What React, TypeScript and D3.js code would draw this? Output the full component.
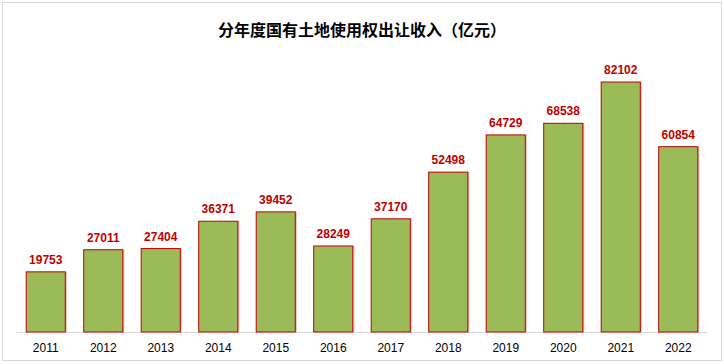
import React from 'react'
import * as d3 from "d3";

const years = ["2011", "2012", "2013", "2014", "2015", "2016", "2017", "2018", "2019", "2020", "2021", "2022"];
const income = [19753, 27011, 27404, 36371, 39452, 28249, 37170, 52498, 64729, 68538, 82102, 60854];
const title = "分年度国有土地使用权出让收入（亿元）";

export default function App() {
	const width = 724, height = 364;
	const marginLeft = 17, marginRight = 17, baseline = 332;

	const x = d3.scaleBand()
		.domain(years)
		.range([marginLeft, width - marginRight])
		.paddingInner(0.32)
		.paddingOuter(0.16);

	const y = d3.scaleLinear()
		.domain([0, 90000])
		.range([baseline, baseline - 90000 * 250 / 82102]);

	return (
		<svg width={width} height={height} style={{ position: "absolute", left: 0, top: 0, fontFamily: "Arial, 'Liberation Sans', sans-serif" }}>
			<rect x={2.5} y={2.5} width={width - 5} height={358} fill="#fff" stroke="#d9d9d9" />
			<text x={width / 2} y={36} textAnchor="middle" fontSize={16} fontWeight="bold"
				fontFamily="'Noto Sans CJK SC', sans-serif" fill="#000">{title}</text>
			<line x1={marginLeft} x2={width - marginRight} y1={baseline + 0.5} y2={baseline + 0.5} stroke="#d9d9d9" />
			{years.map((yr, i) => (
				<g key={yr}>
					<rect x={x(yr)! + 1.5} y={y(income[i])} width={x.bandwidth()} height={baseline - y(income[i])}
						fill="#f2b5b5" />
					<rect x={x(yr)!} y={y(income[i])} width={x.bandwidth()} height={baseline - y(income[i])}
						fill="#9BBB59" stroke="#C00000" strokeWidth={1} />
					<text x={x(yr)! + x.bandwidth() / 2} y={y(income[i]) - 8} textAnchor="middle"
						fontSize={12} fontWeight="bold" fill="#C00000">{income[i]}</text>
					<text x={x(yr)! + x.bandwidth() / 2} y={352} textAnchor="middle"
						fontSize={12} fill="#000">{yr}</text>
				</g>
			))}
		</svg>
	)
}
